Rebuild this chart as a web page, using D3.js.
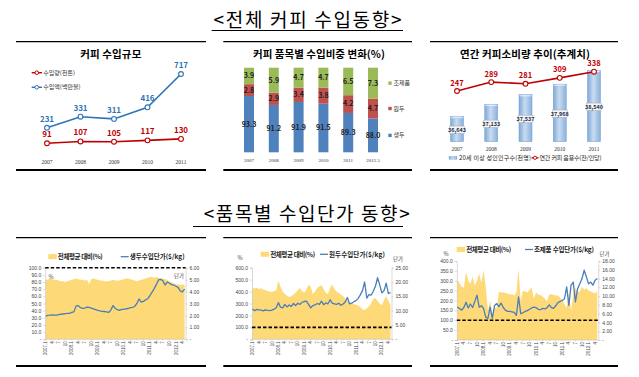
<!DOCTYPE html>
<html>
<head>
<meta charset="utf-8">
<script src="https://cdn.jsdelivr.net/npm/d3@7"></script>
<style>
  body { margin: 0; background: #fff; }
  svg { display: block; font-family: "Noto Sans CJK KR", "Noto Sans", sans-serif; }
</style>
</head>
<body>
<svg id="chart" width="639" height="377"></svg>
<script>
// ---------------- data ----------------
const years5 = ["2007", "2008", "2009", "2010", "2011"];
const importVolume = [91, 107, 105, 117, 130];      // 수입량(천톤)
const importValue = [231, 331, 311, 416, 717];      // 수입액(백만불)

const shareYears = ["2007", "2008", "2009", "2010", "2011", "2012.5"];
const shareRaw = [93.3, 91.2, 91.9, 91.5, 89.3, 88.0];      // 생두
const shareRoasted = [2.8, 2.9, 3.4, 3.8, 4.2, 4.7];       // 원두
const sharePrepared = [3.9, 5.9, 4.7, 4.7, 6.5, 7.3];      // 조제품

const adultPop = [36643, 37133, 37537, 37968, 38540];      // 20세 이상 성인인구수(천명)
const cupsPerCapita = [247, 289, 281, 309, 338];           // 연간 커피 음용수(잔/인당)

const monthTicks = ["2007.1", "4", "7", "10", "2008.1", "4", "7", "10", "2009.1", "4", "7", "10",
  "2010.1", "4", "7", "10", "2011.1", "4", "7", "10", "2012.1", "4"];

// monthly, 2007.1 - 2012.5
const rawPct = [82, 84, 85, 84, 83, 83, 82, 81, 81, 80, 81, 82,
  83, 84, 85, 84, 83, 83, 82, 83, 77, 84, 85, 84,
  83, 82, 82, 81, 81, 81, 82, 83, 82, 82, 82, 83,
  84, 85, 85, 84, 83, 82, 81, 82, 83, 84, 85, 86,
  87, 87, 86, 87, 86, 85, 85, 84, 83, 81, 80, 78,
  77, 77, 76, 77, 76];
const rawPrice = [1.95, 2.00, 2.02, 2.05, 2.03, 2.02, 2.06, 2.10, 2.12, 2.15, 2.17, 2.18,
  2.25, 2.30, 2.80, 2.82, 2.65, 2.60, 2.62, 2.70, 2.68, 2.62, 2.55, 2.48,
  2.42, 2.38, 2.35, 2.33, 2.30, 2.25, 2.45, 2.82, 2.60, 2.48, 2.42, 2.50,
  2.50, 2.55, 2.58, 2.65, 2.68, 2.75, 3.00, 3.38, 3.12, 3.18, 3.30, 3.40,
  3.65, 3.95, 4.25, 4.60, 4.98, 5.02, 4.90, 4.55, 4.80, 4.70, 4.58, 4.55,
  4.45, 4.35, 4.05, 3.98, 4.20];

const roastedPct = [430, 425, 435, 420, 428, 415, 410, 405, 400, 398, 402, 410,
  490, 440, 400, 380, 365, 355, 360, 375, 390, 410, 430, 405,
  390, 420, 455, 440, 380, 400, 430, 445, 455, 420, 390, 380,
  430, 460, 420, 400, 390, 375, 360, 340, 320, 310, 300, 295,
  290, 285, 270, 250, 245, 260, 275, 300, 340, 345, 320, 300,
  285, 330, 360, 320, 290];
const roastedPrice = [10.6, 10.0, 10.4, 10.3, 10.2, 9.9, 10.3, 10.1, 10.0, 10.2, 10.5, 11.0,
  12.8, 11.2, 11.0, 12.2, 11.3, 12.0, 11.5, 12.5, 11.8, 12.6, 12.2, 12.9,
  13.2, 13.3, 12.2, 11.0, 11.8, 12.0, 12.5, 12.2, 13.3, 12.1, 12.7, 12.4,
  13.8, 12.6, 12.4, 12.2, 12.6, 11.9, 12.3, 13.0, 14.6, 12.4, 12.6, 13.1,
  13.5, 14.3, 15.5, 17.0, 20.0, 14.4, 15.6, 15.4, 16.8, 18.5, 21.5, 19.0,
  16.2, 17.0, 19.6, 16.0, 16.3];

const preparedPct = [305, 290, 270, 265, 345, 300, 285, 320, 275, 300, 335, 290,
  355, 270, 150, 200, 130, 170, 160, 245, 240, 242, 238, 236,
  230, 232, 225, 240, 360, 195, 250, 245, 240, 255, 265, 210,
  240, 230, 228, 220, 210, 195, 230, 232, 228, 225, 225, 215,
  200, 180, 165, 240, 150, 235, 265, 240, 245, 270, 255, 262,
  250, 245, 240, 235, 250];
const preparedPrice = [7.5, 7.2, 6.8, 7.4, 8.6, 7.3, 8.2, 7.4, 8.8, 10.2, 7.5, 7.8,
  7.2, 5.2, 4.9, 7.5, 4.9, 7.8, 8.3, 7.6, 8.4, 7.4, 6.8, 6.5,
  6.5, 6.4, 6.3, 5.6, 9.8, 6.0, 6.2, 6.5, 6.7, 7.0, 7.3, 7.5,
  7.4, 7.0, 6.9, 7.2, 7.1, 7.3, 8.0, 7.4, 7.2, 7.8, 8.5, 8.8,
  9.0, 9.4, 12.1, 7.9, 12.5, 13.2, 8.7, 11.7, 12.8, 14.0, 15.9, 14.4,
  12.8, 13.2, 12.5, 13.6, 14.0];

// ---------------- setup ----------------
const svg = d3.select('#chart');
const SERIF = '"Liberation Serif", serif';
const RED = '#c00000', BLUE = '#2e75b6';

// section titles with underline
function sectionTitle(text, cx, y, len, ux0, ux1, uy) {
  svg.append('text')
    .attr('x', cx).attr('y', y)
    .attr('text-anchor', 'middle')
    .attr('textLength', len)
    .style('font-size', '19px')
    .text(text);
  svg.append('line')
    .attr('x1', ux0).attr('x2', ux1).attr('y1', uy).attr('y2', uy)
    .style('stroke', '#000').style('stroke-width', 1);
}
sectionTitle('<전체 커피 수입동향>', 307.5, 27, 188, 211.7, 403, 30.5);
sectionTitle('<품목별 수입단가 동향>', 306.7, 221, 206, 193, 403, 226.5);

// frame lines above/below each panel
function frame(x0, x1, yTop, yBot) {
  svg.append('line').attr('x1', x0).attr('x2', x1).attr('y1', yTop).attr('y2', yTop)
    .style('stroke', '#000').style('stroke-width', 1.3);
  svg.append('line').attr('x1', x0).attr('x2', x1).attr('y1', yBot).attr('y2', yBot)
    .style('stroke', '#000').style('stroke-width', 2);
}
function panelTitle(text, cx, len) {
  svg.append('text')
    .attr('x', cx).attr('y', 58)
    .attr('text-anchor', 'middle')
    .attr('textLength', len)
    .style('font-size', '10.5px').style('font-weight', 'bold')
    .text(text);
}

//----------------------------------------
// Panel 1: 커피 수입규모
frame(16, 206, 41.7, 170);
panelTitle('커피 수입규모', 110.8, 61);

let x1 = d3.scalePoint().domain(years5).range([47, 181]);
let y1 = d3.scaleLinear().domain([0, 717]).range([153.3, 74]);
let line1 = d3.line().x((d, i) => x1(years5[i])).y(d => y1(d));

[[importVolume, RED], [importValue, BLUE]].forEach(function (s) {
  let g = svg.append('g');
  g.append('path').attr('d', line1(s[0]))
    .style('fill', 'none').style('stroke', s[1]).style('stroke-width', 1.6);
  g.selectAll('circle').data(s[0]).enter().append('circle')
    .attr('cx', (d, i) => x1(years5[i])).attr('cy', d => y1(d)).attr('r', 2.4)
    .style('fill', '#fff').style('stroke', s[1]).style('stroke-width', 1.1);
  g.selectAll('text').data(s[0]).enter().append('text')
    .attr('x', (d, i) => x1(years5[i])).attr('y', d => y1(d) - 6)
    .attr('text-anchor', 'middle')
    .style('font-size', '8px').style('font-weight', 'bold').style('fill', s[1])
    .text(d => d);
});
svg.selectAll('.x1lab').data(years5).enter().append('text')
  .attr('x', d => x1(d)).attr('y', 164)
  .attr('text-anchor', 'middle')
  .style('font-family', SERIF).style('font-size', '5.5px').style('fill', '#333')
  .text(d => d);
// legend
[['수입량(천톤)', RED, 72.7], ['수입액(백만불)', BLUE, 87.3]].forEach(function (l) {
  svg.append('line').attr('x1', 31.7).attr('x2', 42).attr('y1', l[2]).attr('y2', l[2])
    .style('stroke', l[1]).style('stroke-width', 1.4);
  svg.append('circle').attr('cx', 36.8).attr('cy', l[2]).attr('r', 1.8)
    .style('fill', '#fff').style('stroke', l[1]).style('stroke-width', 1);
  svg.append('text').attr('x', 43.3).attr('y', l[2] + 2.1)
    .style('font-size', '6px').style('fill', '#333').text(l[0]);
});

//----------------------------------------
// Panel 2: 커피 품목별 수입비중 변화(%)
frame(223.3, 412, 41.7, 170);
panelTitle('커피 품목별 수입비중 변화(%)', 319, 132);

let shareTable = shareYears.map((y, i) => ({
  year: y, raw: shareRaw[i], roasted: shareRoasted[i], prepared: sharePrepared[i]
}));
let stackKeys = ['raw', 'roasted', 'prepared'];
let stackColors = { raw: '#4f81bd', roasted: '#c0504d', prepared: '#9bbb59' };
let stackNames = { raw: '생두', roasted: '원두', prepared: '조제품' };
let series = d3.stack().keys(stackKeys)(shareTable);

let x2 = d3.scalePoint().domain(shareYears).range([249, 373]);
let y2 = d3.scaleLinear().domain([80, 100]).range([152.3, 67.7]).clamp(true);
let barW = 10;

series.forEach(function (s) {
  let g = svg.append('g');
  g.selectAll('rect').data(s).enter().append('rect')
    .attr('x', d => x2(d.data.year) - barW / 2)
    .attr('y', d => y2(d[1]))
    .attr('width', barW)
    .attr('height', d => y2(d[0]) - y2(d[1]))
    .style('fill', stackColors[s.key]);
  g.selectAll('text').data(s).enter().append('text')
    .attr('x', d => x2(d.data.year))
    .attr('y', d => (y2(d[0]) + y2(d[1])) / 2 + 2.4)
    .attr('text-anchor', 'middle')
    .style('font-size', '7px').style('font-weight', 'bold').style('fill', '#1f1f1f')
    .text(d => d.data[s.key].toFixed(1));
  // legend next to last bar
  let last = s[s.length - 1];
  let ly = (y2(last[0]) + y2(last[1])) / 2;
  svg.append('rect').attr('x', 388.3).attr('y', ly - 1.7).attr('width', 3.4).attr('height', 3.4)
    .style('fill', stackColors[s.key]);
  svg.append('text').attr('x', 393.5).attr('y', ly + 2.1)
    .style('font-size', '6px').style('fill', '#333').text(stackNames[s.key]);
});
svg.selectAll('.x2lab').data(shareYears).enter().append('text')
  .attr('x', d => x2(d)).attr('y', 161.5)
  .attr('text-anchor', 'middle')
  .style('font-family', SERIF).style('font-size', '5px').style('fill', '#333')
  .text(d => d);

//----------------------------------------
// Panel 3: 연간 커피소비량 추이(추계치)
frame(430, 618, 41.7, 170);
panelTitle('연간 커피소비량 추이(추계치)', 525, 130);

let defs = svg.append('defs');
let grad = defs.append('linearGradient').attr('id', 'barGrad')
  .attr('x1', '0%').attr('x2', '100%').attr('y1', '0%').attr('y2', '0%');
grad.append('stop').attr('offset', '0%').attr('stop-color', '#7fa7d6');
grad.append('stop').attr('offset', '45%').attr('stop-color', '#c8dcf1');
grad.append('stop').attr('offset', '100%').attr('stop-color', '#8bb0dc');

let x3 = d3.scalePoint().domain(years5).range([457, 594]);
let yPop = d3.scaleLinear().domain([35600, 38540]).range([141.7, 70.4]);
let yCup = d3.scaleLinear().domain([0, 338]).range([143.4, 71.7]);
let bw3 = 13;

let bars3 = svg.append('g');
bars3.selectAll('rect').data(adultPop).enter().append('rect')
  .attr('x', (d, i) => x3(years5[i]) - bw3 / 2)
  .attr('y', d => yPop(d))
  .attr('width', bw3)
  .attr('height', d => yPop(35600) - yPop(d))
  .style('fill', 'url(#barGrad)').style('stroke', '#6f9fd8').style('stroke-width', 0.5);
bars3.selectAll('ellipse').data(adultPop).enter().append('ellipse')
  .attr('cx', (d, i) => x3(years5[i])).attr('cy', d => yPop(d) + 1)
  .attr('rx', bw3 / 2).attr('ry', 1.2)
  .style('fill', '#dcebf8').style('stroke', '#8fb4e0').style('stroke-width', 0.4);
// value boxes
adultPop.forEach(function (d, i) {
  let cy = (yPop(d) + yPop(35600)) / 2 + 1;
  let cx = x3(years5[i]);
  svg.append('rect').attr('x', cx - 7.5).attr('y', cy - 4).attr('width', 15).attr('height', 7.5)
    .style('fill', '#f4f4f4').style('stroke', '#9a9a9a').style('stroke-width', 0.4);
  svg.append('text').attr('x', cx).attr('y', cy + 2)
    .attr('text-anchor', 'middle')
    .style('font-size', '5.5px').style('font-weight', 'bold').style('fill', '#1f2f4f')
    .text(d3.format(',')(d));
});
// cups line
let line3 = d3.line().x((d, i) => x3(years5[i])).y(d => yCup(d));
svg.append('path').attr('d', line3(cupsPerCapita))
  .style('fill', 'none').style('stroke', RED).style('stroke-width', 1.6);
svg.selectAll('.cup').data(cupsPerCapita).enter().append('circle')
  .attr('cx', (d, i) => x3(years5[i])).attr('cy', d => yCup(d)).attr('r', 2.4)
  .style('fill', '#fff').style('stroke', RED).style('stroke-width', 1.1);
svg.selectAll('.cuplab').data(cupsPerCapita).enter().append('text')
  .attr('x', (d, i) => x3(years5[i])).attr('y', d => yCup(d) - 5.5)
  .attr('text-anchor', 'middle')
  .style('font-size', '7.5px').style('font-weight', 'bold').style('fill', RED)
  .text(d => d);
svg.selectAll('.x3lab').data(years5).enter().append('text')
  .attr('x', d => x3(d)).attr('y', 150.5)
  .attr('text-anchor', 'middle')
  .style('font-family', SERIF).style('font-size', '5.5px').style('fill', '#333')
  .text(d => d);
// legend
svg.append('rect').attr('x', 449).attr('y', 156.3).attr('width', 8).attr('height', 3)
  .style('fill', 'url(#barGrad)').style('stroke', '#6f9fd8').style('stroke-width', 0.3);
svg.append('text').attr('x', 459).attr('y', 159.8).attr('textLength', 72)
  .style('font-size', '6px').style('fill', '#222').text('20세 이상 성인인구수(천명)');
svg.append('line').attr('x1', 531.5).attr('x2', 538.5).attr('y1', 157.8).attr('y2', 157.8)
  .style('stroke', RED).style('stroke-width', 1.3);
svg.append('circle').attr('cx', 535).attr('cy', 157.8).attr('r', 1.6)
  .style('fill', '#fff').style('stroke', RED).style('stroke-width', 0.9);
svg.append('text').attr('x', 539.5).attr('y', 159.8).attr('textLength', 62)
  .style('font-size', '6px').style('fill', '#222').text('연간 커피 음용수(잔/인당)');

//----------------------------------------
// Bottom row: 품목별 수입단가
function priceChart(cfg) {
  frame(cfg.fx0, cfg.fx1, 237.7, 366);
  let x = d3.scaleLinear().domain([0, cfg.pct.length - 1]).range([cfg.x0, cfg.x1]);
  let yL = d3.scaleLinear().domain([0, cfg.pctMax]).range([cfg.yBot, cfg.yTop]);
  let yR = d3.scaleLinear().domain([0, cfg.priceMax]).range([cfg.yBot, cfg.yTop]);

  let area = d3.area().x((d, i) => x(i)).y0(yL(0)).y1(d => yL(d));
  svg.append('path').attr('d', area(cfg.pct)).style('fill', '#fdd978');

  // axes
  let axL = svg.append('g').attr('transform', 'translate(' + (cfg.x0 - 0.5) + ',0)')
    .call(d3.axisLeft(yL).tickValues(d3.range(0, cfg.pctMax + 0.1, cfg.pctStep))
      .tickSize(2).tickPadding(2)
      .tickFormat(d => d === 0 ? '-' : d3.format('.1f')(d)));
  let axR = svg.append('g').attr('transform', 'translate(' + (cfg.x1 + 1) + ',0)')
    .call(d3.axisRight(yR).tickValues(d3.range(0, cfg.priceMax + 0.01, cfg.priceStep))
      .tickSize(2).tickPadding(2)
      .tickFormat(d => d === 0 ? '-' : d3.format('.2f')(d)));
  [axL, axR].forEach(function (a) {
    a.selectAll('path,line').style('stroke', '#bfbfbf').style('stroke-width', 0.6);
    a.selectAll('text').style('font-size', '5px').style('fill', '#444')
      .style('font-family', '"Liberation Sans", sans-serif');
  });
  svg.append('line').attr('x1', cfg.x0 - 0.5).attr('x2', cfg.x1 + 1)
    .attr('y1', cfg.yBot).attr('y2', cfg.yBot)
    .style('stroke', '#bfbfbf').style('stroke-width', 0.6);
  // month ticks
  monthTicks.forEach(function (t, k) {
    let xm = x(k * 3);
    svg.append('line').attr('x1', xm).attr('x2', xm).attr('y1', cfg.yBot).attr('y2', cfg.yBot + 1.5)
      .style('stroke', '#bfbfbf').style('stroke-width', 0.5);
    svg.append('text')
      .attr('transform', 'translate(' + (xm + 1.6) + ',' + (cfg.yBot + 2) + ') rotate(-90)')
      .attr('text-anchor', 'end')
      .style('font-size', '4.5px').style('fill', '#444')
      .style('font-family', '"Liberation Sans", sans-serif')
      .text(t);
  });

  // 100% reference line
  svg.append('line').attr('x1', cfg.x0 - 0.5).attr('x2', cfg.x1 + 1)
    .attr('y1', yL(100)).attr('y2', yL(100))
    .style('stroke', '#000').style('stroke-width', 1.6).style('stroke-dasharray', '3.5,2');

  // price line
  let line = d3.line().x((d, i) => x(i)).y(d => yR(d));
  svg.append('path').attr('d', line(cfg.price))
    .style('fill', 'none').style('stroke', '#4a7ebb').style('stroke-width', 1.3)
    .style('stroke-linejoin', 'round');

  // unit labels
  svg.append('text').attr('x', cfg.pctLab[0]).attr('y', cfg.pctLab[1])
    .style('font-size', '5.5px').style('fill', '#444').text('%');
  svg.append('text').attr('x', cfg.unitLab[0]).attr('y', cfg.unitLab[1])
    .style('font-size', '5.5px').style('fill', '#444').text('단가');

  // legend
  let ly = cfg.legY;
  svg.append('rect').attr('x', cfg.leg[0]).attr('y', ly - 2.6).attr('width', 8.5).attr('height', 5)
    .style('fill', '#fdd978');
  svg.append('text').attr('x', cfg.leg[0] + 9.5).attr('y', ly + 2.3).attr('textLength', 45)
    .style('font-size', '6.5px').style('font-weight', 'bold').style('fill', '#222')
    .text('전체평균 대비(%)');
  svg.append('line').attr('x1', cfg.leg[1]).attr('x2', cfg.leg[1] + 8).attr('y1', ly).attr('y2', ly)
    .style('stroke', '#4a7ebb').style('stroke-width', 1.3);
  svg.append('text').attr('x', cfg.leg[1] + 9).attr('y', ly + 2.3).attr('textLength', cfg.legLen)
    .style('font-size', '6.5px').style('font-weight', 'bold').style('fill', '#222')
    .text(cfg.name);
}

priceChart({
  fx0: 16, fx1: 206, x0: 45.7, x1: 184.6, yTop: 267.7, yBot: 339.3,
  pct: rawPct, price: rawPrice, pctMax: 100, pctStep: 10, priceMax: 6, priceStep: 1,
  pctLab: [48.5, 279], unitLab: [174, 278],
  legY: 256.7, leg: [48.3, 120.7], legLen: 55, name: '생두수입단가($/kg)'
});
priceChart({
  fx0: 223.3, fx1: 412, x0: 252.5, x1: 390.5, yTop: 267.7, yBot: 339.3,
  pct: roastedPct, price: roastedPrice, pctMax: 600, pctStep: 100, priceMax: 25, priceStep: 5,
  pctLab: [237.5, 260], unitLab: [393, 261],
  legY: 254.3, leg: [260.7, 320], legLen: 56, name: '원두수입단가($/kg)'
});
priceChart({
  fx0: 430, fx1: 618, x0: 457.3, x1: 597.3, yTop: 261, yBot: 340,
  pct: preparedPct, price: preparedPrice, pctMax: 400, pctStep: 50, priceMax: 18, priceStep: 2,
  pctLab: [443.5, 256], unitLab: [599.5, 256],
  legY: 249.5, leg: [456.7, 525], legLen: 60, name: '조제품 수입단가($/kg)'
});
</script>
</body>
</html>
